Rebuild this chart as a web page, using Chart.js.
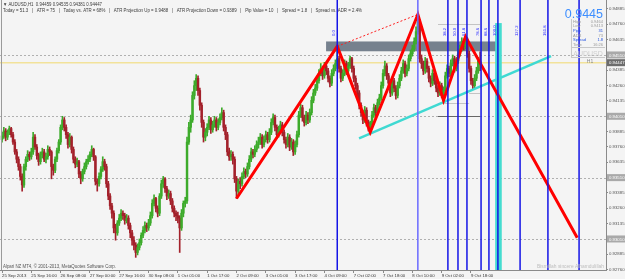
<!DOCTYPE html>
<html>
<head>
<meta charset="utf-8">
<script src="https://cdn.jsdelivr.net/npm/chart.js@4.4.0/dist/chart.umd.min.js"></script>
<style>
    html, body { margin: 0; padding: 0; background: #f4f4f4; }
    canvas { display: block; }
</style>
</head>
<body>
<canvas id="grafico" width="625" height="279"></canvas>
<script>
// AUDUSD H1, one value per bar
const opens = [
0.9382,0.9385,0.9389,0.9384,0.9388,0.9391,0.9386,0.9380,0.9372,0.9366,
0.9360,0.9352,0.9345,0.9360,0.9366,0.9370,0.9368,0.9372,0.9384,0.9376,
0.9369,0.9364,0.9370,0.9372,0.9366,0.9368,0.9374,0.9372,0.9360,0.9357,
0.9366,0.9373,0.9380,0.9392,0.9398,0.9392,0.9386,0.9378,0.9384,0.9374,
0.9366,0.9362,0.9364,0.9354,0.9350,0.9356,0.9360,0.9364,0.9366,0.9370,
0.9374,0.9368,0.9348,0.9346,0.9352,0.9358,0.9364,0.9360,0.9346,0.9336,
0.9328,0.9322,0.9310,0.9306,0.9314,0.9318,0.9322,0.9320,0.9316,0.9318,
0.9312,0.9306,0.9300,0.9296,0.9290,0.9294,0.9298,0.9304,0.9308,0.9312,
0.9310,0.9314,0.9320,0.9330,0.9334,0.9326,0.9322,0.9336,0.9346,0.9350,
0.9342,0.9336,0.9338,0.9332,0.9326,0.9322,0.9320,0.9318,0.9310,0.9322,
0.9330,0.9332,0.9380,0.9392,0.9398,0.9418,0.9426,0.9432,0.9422,0.9410,
0.9396,0.9384,0.9388,0.9392,0.9398,0.9390,0.9394,0.9398,0.9392,0.9396,
0.9400,0.9404,0.9392,0.9386,0.9372,0.9368,0.9370,0.9366,0.9350,0.9340,
0.9348,0.9346,0.9352,0.9356,0.9354,0.9360,0.9366,0.9372,0.9370,0.9374,
0.9378,0.9380,0.9384,0.9378,0.9382,0.9386,0.9382,0.9388,0.9396,0.9400,
0.9392,0.9386,0.9390,0.9394,0.9388,0.9382,0.9378,0.9384,0.9376,0.9380,
0.9372,0.9378,0.9386,0.9402,0.9408,0.9400,0.9396,0.9402,0.9398,0.9404,
0.9414,0.9420,0.9424,0.9430,0.9436,0.9440,0.9434,0.9442,0.9438,0.9432,
0.9428,0.9436,0.9440,0.9444,0.9448,0.9440,0.9432,0.9436,0.9444,0.9438,
0.9442,0.9448,0.9440,0.9432,0.9426,0.9420,0.9410,0.9404,0.9398,0.9406,
0.9396,0.9392,0.9394,0.9402,0.9408,0.9404,0.9412,0.9416,0.9426,0.9436,
0.9442,0.9434,0.9428,0.9420,0.9430,0.9424,0.9418,0.9426,0.9432,0.9438,
0.9444,0.9436,0.9440,0.9448,0.9452,0.9456,0.9462,0.9470,0.9478,0.9448,
0.9444,0.9438,0.9446,0.9440,0.9432,0.9428,0.9436,0.9430,0.9424,0.9420,
0.9426,0.9418,0.9422,0.9434,0.9440,0.9436,0.9444,0.9448,0.9440,0.9446,
0.9452,0.9456,0.9462,0.9458,0.9464,0.9452,0.9440,0.9430,0.9426,0.9432,
0.9438,0.94459]

const highs = [
0.9388,0.9392,0.9391,0.9390,0.9393,0.9392,0.9388,0.9382,0.9374,0.9368,
0.9362,0.9354,0.9362,0.9368,0.9373,0.9372,0.9375,0.9388,0.9386,0.9378,
0.9371,0.9372,0.9375,0.9374,0.9371,0.9377,0.9376,0.9373,0.9362,0.9368,
0.9375,0.9382,0.9394,0.9401,0.9400,0.9394,0.9388,0.9387,0.9385,0.9376,
0.9368,0.9367,0.9365,0.9356,0.9358,0.9363,0.9366,0.9369,0.9372,0.9377,
0.9375,0.9369,0.9350,0.9355,0.9360,0.9368,0.9366,0.9362,0.9348,0.9338,
0.9330,0.9324,0.9313,0.9316,0.9321,0.9325,0.9324,0.9322,0.9321,0.9320,
0.9314,0.9308,0.9303,0.9298,0.9297,0.9301,0.9306,0.9311,0.9315,0.9314,
0.9317,0.9323,0.9333,0.9337,0.9335,0.9328,0.9338,0.9349,0.9352,0.9351,
0.9344,0.9341,0.9340,0.9334,0.9328,0.9324,0.9323,0.9320,0.9325,0.9332,
0.9335,0.9384,0.9396,0.9402,0.9421,0.9430,0.9435,0.9434,0.9424,0.9412,
0.9398,0.9391,0.9395,0.9401,0.9400,0.9397,0.9401,0.9400,0.9399,0.9403,
0.9408,0.9406,0.9394,0.9388,0.9375,0.9373,0.9372,0.9368,0.9352,0.9350,
0.9351,0.9355,0.9359,0.9358,0.9363,0.9369,0.9375,0.9374,0.9377,0.9381,
0.9384,0.9387,0.9386,0.9385,0.9389,0.9388,0.9391,0.9399,0.9403,0.9402,
0.9394,0.9393,0.9397,0.9396,0.9390,0.9384,0.9387,0.9386,0.9383,0.9382,
0.9381,0.9389,0.9405,0.9411,0.9410,0.9402,0.9405,0.9404,0.9407,0.9417,
0.9423,0.9427,0.9433,0.9439,0.9444,0.9442,0.9445,0.9444,0.9440,0.9434,
0.9439,0.9443,0.9447,0.9458,0.9450,0.9442,0.9439,0.9447,0.9446,0.9445,
0.9450,0.9449,0.9442,0.9434,0.9428,0.9422,0.9412,0.9406,0.9409,0.9408,
0.9398,0.9397,0.9405,0.9411,0.9410,0.9415,0.9419,0.9429,0.9439,0.9446,
0.9444,0.9436,0.9430,0.9433,0.9432,0.9426,0.9429,0.9435,0.9441,0.9447,
0.9446,0.9443,0.9451,0.9455,0.9459,0.9465,0.9474,0.9484,0.9480,0.9451,
0.9446,0.9449,0.9448,0.9442,0.9434,0.9439,0.9438,0.9432,0.9426,0.9429,
0.9428,0.9425,0.9437,0.9443,0.9442,0.9447,0.9451,0.9450,0.9449,0.9455,
0.9459,0.9465,0.9464,0.9466,0.9465,0.9454,0.9442,0.9432,0.9435,0.9441,
0.9449,0.94535]

const lows = [
0.9380,0.9383,0.9381,0.9382,0.9386,0.9384,0.9378,0.9370,0.9363,0.9357,
0.9349,0.9340,0.9343,0.9357,0.9364,0.9365,0.9366,0.9370,0.9374,0.9366,
0.9361,0.9362,0.9367,0.9364,0.9363,0.9366,0.9369,0.9350,0.9353,0.9355,
0.9364,0.9371,0.9378,0.9390,0.9389,0.9383,0.9375,0.9376,0.9371,0.9363,
0.9359,0.9360,0.9351,0.9346,0.9348,0.9354,0.9358,0.9362,0.9364,0.9368,
0.9365,0.9345,0.9340,0.9344,0.9350,0.9356,0.9357,0.9343,0.9333,0.9325,
0.9318,0.9306,0.9300,0.9304,0.9312,0.9316,0.9317,0.9313,0.9314,0.9309,
0.9302,0.9296,0.9292,0.9286,0.9288,0.9292,0.9296,0.9302,0.9306,0.9307,
0.9308,0.9312,0.9318,0.9328,0.9323,0.9319,0.9320,0.9334,0.9343,0.9339,
0.9333,0.9334,0.9329,0.9323,0.9319,0.9316,0.9314,0.9290,0.9308,0.9319,
0.9327,0.9330,0.9378,0.9388,0.9396,0.9415,0.9422,0.9418,0.9406,0.9392,
0.9380,0.9381,0.9385,0.9390,0.9387,0.9388,0.9392,0.9389,0.9390,0.9394,
0.9398,0.9389,0.9382,0.9369,0.9365,0.9365,0.9362,0.9347,0.9334,0.9337,
0.9342,0.9344,0.9350,0.9351,0.9352,0.9358,0.9364,0.9367,0.9368,0.9372,
0.9375,0.9378,0.9375,0.9376,0.9380,0.9379,0.9380,0.9386,0.9394,0.9389,
0.9383,0.9384,0.9388,0.9385,0.9379,0.9375,0.9376,0.9373,0.9374,0.9369,
0.9370,0.9376,0.9384,0.9400,0.9397,0.9393,0.9394,0.9395,0.9396,0.9402,
0.9412,0.9418,0.9422,0.9428,0.9434,0.9431,0.9432,0.9435,0.9429,0.9425,
0.9426,0.9434,0.9438,0.9442,0.9437,0.9429,0.9430,0.9434,0.9435,0.9436,
0.9440,0.9437,0.9429,0.9423,0.9417,0.9407,0.9401,0.9395,0.9396,0.9393,
0.9389,0.9388,0.9392,0.9400,0.9401,0.9402,0.9410,0.9414,0.9424,0.9434,
0.9431,0.9425,0.9417,0.9418,0.9421,0.9415,0.9416,0.9424,0.9430,0.9436,
0.9433,0.9434,0.9438,0.9446,0.9450,0.9454,0.9460,0.9468,0.9445,0.9440,
0.9435,0.9436,0.9437,0.9429,0.9425,0.9426,0.9427,0.9421,0.9417,0.9418,
0.9416,0.9414,0.9420,0.9432,0.9433,0.9434,0.9442,0.9437,0.9438,0.9444,
0.9450,0.9454,0.9455,0.9456,0.9449,0.9437,0.9427,0.9423,0.9424,0.9430,
0.9436,0.94381]

const closes = [
0.9385,0.9389,0.9384,0.9388,0.9391,0.9386,0.9380,0.9372,0.9366,0.9360,
0.9352,0.9345,0.9360,0.9366,0.9370,0.9368,0.9372,0.9384,0.9376,0.9369,
0.9364,0.9370,0.9372,0.9366,0.9368,0.9374,0.9372,0.9360,0.9357,0.9366,
0.9373,0.9380,0.9392,0.9398,0.9392,0.9386,0.9378,0.9384,0.9374,0.9366,
0.9362,0.9364,0.9354,0.9350,0.9356,0.9360,0.9364,0.9366,0.9370,0.9374,
0.9368,0.9348,0.9346,0.9352,0.9358,0.9364,0.9360,0.9346,0.9336,0.9328,
0.9322,0.9310,0.9306,0.9314,0.9318,0.9322,0.9320,0.9316,0.9318,0.9312,
0.9306,0.9300,0.9296,0.9290,0.9294,0.9298,0.9304,0.9308,0.9312,0.9310,
0.9314,0.9320,0.9330,0.9334,0.9326,0.9322,0.9336,0.9346,0.9350,0.9342,
0.9336,0.9338,0.9332,0.9326,0.9322,0.9320,0.9318,0.9310,0.9322,0.9330,
0.9332,0.9380,0.9392,0.9398,0.9418,0.9426,0.9432,0.9422,0.9410,0.9396,
0.9384,0.9388,0.9392,0.9398,0.9390,0.9394,0.9398,0.9392,0.9396,0.9400,
0.9404,0.9392,0.9386,0.9372,0.9368,0.9370,0.9366,0.9350,0.9340,0.9348,
0.9346,0.9352,0.9356,0.9354,0.9360,0.9366,0.9372,0.9370,0.9374,0.9378,
0.9380,0.9384,0.9378,0.9382,0.9386,0.9382,0.9388,0.9396,0.9400,0.9392,
0.9386,0.9390,0.9394,0.9388,0.9382,0.9378,0.9384,0.9376,0.9380,0.9372,
0.9378,0.9386,0.9402,0.9408,0.9400,0.9396,0.9402,0.9398,0.9404,0.9414,
0.9420,0.9424,0.9430,0.9436,0.9440,0.9434,0.9442,0.9438,0.9432,0.9428,
0.9436,0.9440,0.9444,0.9448,0.9440,0.9432,0.9436,0.9444,0.9438,0.9442,
0.9448,0.9440,0.9432,0.9426,0.9420,0.9410,0.9404,0.9398,0.9406,0.9396,
0.9392,0.9394,0.9402,0.9408,0.9404,0.9412,0.9416,0.9426,0.9436,0.9442,
0.9434,0.9428,0.9420,0.9430,0.9424,0.9418,0.9426,0.9432,0.9438,0.9444,
0.9436,0.9440,0.9448,0.9452,0.9456,0.9462,0.9470,0.9478,0.9448,0.9444,
0.9438,0.9446,0.9440,0.9432,0.9428,0.9436,0.9430,0.9424,0.9420,0.9426,
0.9418,0.9422,0.9434,0.9440,0.9436,0.9444,0.9448,0.9440,0.9446,0.9452,
0.9456,0.9462,0.9458,0.9464,0.9452,0.9440,0.9430,0.9426,0.9432,0.9438,
0.9446,0.94447]

const timeTickIdx = [0, 16, 32, 48, 64, 80, 96, 112, 128, 144, 160, 176, 192, 208, 224, 240, 256]
const timeLabels = ['25 Sep 2013', '25 Sep 16:00', '26 Sep 08:00', '27 Sep 00:00', '27 Sep 16:00', '30 Sep 08:00',
    '1 Oct 01:00', '1 Oct 17:00', '2 Oct 09:00', '3 Oct 01:00', '3 Oct 17:00', '4 Oct 09:00', '7 Oct 02:00',
    '7 Oct 18:00', '8 Oct 10:00', '9 Oct 02:00', '9 Oct 18:00']
const priceTicks = [0.92760, 0.92885, 0.93010, 0.93135, 0.93260, 0.93385, 0.93510, 0.93635, 0.93760,
    0.93885, 0.94010, 0.94135, 0.94260, 0.94385, 0.94510, 0.94635, 0.94760, 0.94885]
const gridLevels = [0.93010, 0.93510, 0.94010, 0.94510]
const bid = 0.94447

// objects drawn on the chart (bar index, price)
const zigzagIdx = [128, 183, 201, 227, 241, 253, 314]
const zigzagPrice = [0.9334, 0.9458, 0.9388, 0.9484, 0.9414, 0.9466, 0.9302]
const dotIdx = [183, 227]
const dotPrice = [0.9458, 0.9484]
const trendIdx = [194.9, 299.7]
const trendPrice = [0.9383, 0.9450]
const boxIdx = [176.9, 270.2]
const boxPrice = [0.9454, 0.9462]
const bandIdx = [269.2, 272.8]
const bandTop = 0.9477
const vLineIdx = [183, 227, 243.4, 248.9, 253.8, 261.5, 265.8, 270.7, 282.8, 298, 315]
const vLineLabels = ['0.0', '', '38.2', '50.0', '61.8', '78.6', '88.6', '100.0', '127.2', '161.8', '']
const levelIdx = [[238, 261], [238, 261], [238, 255], [255, 261]]
const levelPrice = [0.9476, 0.9401, 0.9412, 0.9420]

const infoRows = [['High', '0.9464'], ['Low', '0.9413'], ['Pips', '31'], ['ADR', '73'], ['Spread', '1.8'], ['Time', '16:26']]

Chart.defaults.font.family = '"Liberation Sans", Arial, sans-serif'

const verde = '#3dab2b'
const vermelho = '#a3212b'
const corCandle = closes.map((c, i) => c >= opens[i] ? verde : vermelho)

function linha(ctx, x1, y1, x2, y2) {
    ctx.beginPath()
    ctx.moveTo(x1, y1)
    ctx.lineTo(x2, y2)
    ctx.stroke()
}

function texto(ctx, t, x, y, font, cor, align, largura) {
    ctx.font = font
    ctx.fillStyle = cor
    ctx.textAlign = align || 'left'
    ctx.textBaseline = 'alphabetic'
    if (largura) {
        ctx.fillText(t, x, y, largura)
    } else {
        ctx.fillText(t, x, y)
    }
}

const objetos = {
    id: 'objetos',
    beforeDraw(chart) {
        const { ctx, width, height } = chart
        ctx.save()
        ctx.fillStyle = '#f4f4f4'
        ctx.fillRect(0, 0, width, height)
        ctx.restore()
    },
    beforeDatasetsDraw(chart) {
        const { ctx, chartArea: a, scales: { x, y } } = chart
        ctx.save()
        ctx.beginPath()
        ctx.rect(a.left, a.top, a.right - a.left, a.bottom - a.top)
        ctx.clip()

        ctx.strokeStyle = '#b0b0b0'
        ctx.lineWidth = 1
        ctx.setLineDash([2, 2])
        gridLevels.forEach(v => {
            const py = Math.round(y.getPixelForValue(v)) + 0.5
            linha(ctx, a.left, py, a.right, py)
        })
        ctx.setLineDash([])

        ctx.strokeStyle = '#f2e29a'
        ctx.lineWidth = 1.5
        const pb = y.getPixelForValue(bid)
        linha(ctx, a.left, pb, a.right, pb)

        // gray rectangle
        const bx1 = x.getPixelForValue(boxIdx[0])
        const bx2 = x.getPixelForValue(boxIdx[1])
        const by1 = y.getPixelForValue(boxPrice[1])
        const by2 = y.getPixelForValue(boxPrice[0])
        ctx.fillStyle = '#76818e'
        ctx.fillRect(bx1, by1, bx2 - bx1, by2 - by1)

        // turquoise band
        const cx1 = x.getPixelForValue(bandIdx[0])
        const cx2 = x.getPixelForValue(bandIdx[1])
        const cy = y.getPixelForValue(bandTop)
        ctx.fillStyle = '#45dccf'
        ctx.fillRect(cx1, cy, cx2 - cx1, a.bottom - cy)

        // short level lines
        ctx.lineWidth = 1
        levelIdx.forEach((par, i) => {
            ctx.strokeStyle = i == 1 ? '#666666' : '#c4c4c4'
            const py = Math.round(y.getPixelForValue(levelPrice[i])) + 0.5
            linha(ctx, x.getPixelForValue(par[0]), py, x.getPixelForValue(par[1]), py)
        })
        ctx.restore()
    },
    afterDatasetsDraw(chart) {
        const { ctx, chartArea: a, scales: { x, y } } = chart
        ctx.save()

        // vertical time lines
        ctx.lineWidth = 1.5
        vLineIdx.forEach((v, i) => {
            const px = x.getPixelForValue(v)
            ctx.strokeStyle = i == 1 ? '#6a6aff' : '#1414e6'
            linha(ctx, px, a.top, px, a.bottom)
            if (vLineLabels[i]) {
                ctx.save()
                ctx.translate(px - 2, 36)
                ctx.rotate(-Math.PI / 2)
                texto(ctx, vLineLabels[i], 0, 0, '4.2px "Liberation Sans"', '#2a2aff', 'left')
                ctx.restore()
            }
        })

        // header
        texto(ctx, '\u25BC AUDUSD,H1  0.94459 0.94535 0.94381 0.94447', 3, 5.5, '5px "Liberation Sans"', '#3a3a3a', 'left', 99)
        const cabecalho = 'Today = 51.3   |   ATR = 75   |   Today vs. ATR = 68%   |   ATR Projection Up = 0.9488   |   ATR Projection Down = 0.9389   |   Pip Value = 10   |   Spread = 1.8   |   Spread vs. ADR = 2.4%'
        texto(ctx, cabecalho, 3, 12, '5px "Liberation Sans"', '#3a3a3a', 'left', 359)

        texto(ctx, 'Alpari NZ MT4, \u00A9 2001-2013, MetaQuotes Software Corp.', 3, 267.5, '5px "Liberation Sans"', '#555555', 'left', 113)
        texto(ctx, 'Bismillah sincere Alhamdulillah', 604, 267.5, '5px "Liberation Sans"', '#bdbdbd', 'right', 67)

        // info panel
        ctx.strokeStyle = '#c8c8c8'
        ctx.lineWidth = 1
        linha(ctx, 571, 47.5, 605, 47.5)
        linha(ctx, 571, 57.5, 605, 57.5)
        linha(ctx, 571.5, 19, 571.5, 58)
        texto(ctx, '0.9445', 603, 18, '12.5px "Liberation Sans"', '#3d8eff', 'right')
        infoRows.forEach((r, i) => {
            const cor = (i == 2 || i == 4) ? '#1f4fe0' : '#9a9a9a'
            const py = 22.5 + i * 4.7
            texto(ctx, r[0], 573, py, '4px "Liberation Sans"', cor)
            texto(ctx, r[1], 603, py, '4px "Liberation Sans"', cor, 'right')
        })
        texto(ctx, 'AUDUSD', 588, 55.5, '7px "Liberation Sans"', '#cfcfcf', 'center')
        texto(ctx, 'H1', 590, 63, '5px "Liberation Sans"', '#8a8a8a', 'center')

        // left border
        ctx.strokeStyle = '#9a9a9a'
        linha(ctx, 1.5, a.top, 1.5, a.bottom)

        // boxed prices on the axis
        gridLevels.concat([bid]).forEach(v => {
            const py = y.getPixelForValue(v)
            ctx.fillStyle = v == bid ? '#6c6c6c' : '#a9a9a9'
            ctx.fillRect(607, py - 3.5, 18, 7)
            texto(ctx, v.toFixed(5), 609, py + 1.6, '4.3px "Liberation Sans"', '#ffffff')
        })
        ctx.restore()
    }
}

const ctx = document.getElementById('grafico').getContext('2d')

new Chart(ctx, {
    type: 'bar',
    data: {
        datasets: [
            {
                type: 'line',
                data: zigzagIdx.map((v, i) => ({ x: v, y: zigzagPrice[i] })),
                borderColor: '#ff0000',
                borderWidth: 3,
                pointRadius: 0,
                order: 0
            },
            {
                type: 'line',
                data: dotIdx.map((v, i) => ({ x: v, y: dotPrice[i] })),
                borderColor: '#ff2020',
                borderWidth: 1,
                borderDash: [2, 2],
                pointRadius: 0,
                order: 1
            },
            {
                type: 'line',
                data: trendIdx.map((v, i) => ({ x: v, y: trendPrice[i] })),
                borderColor: '#3fd9d2',
                borderWidth: 2.5,
                pointRadius: 0,
                order: 2
            },
            {
                data: opens.map((o, i) => ({ x: i, y: [o, closes[i]] })),
                backgroundColor: corCandle,
                barThickness: 1.8,
                minBarLength: 1,
                grouped: false,
                order: 3
            },
            {
                data: lows.map((l, i) => ({ x: i, y: [l, highs[i]] })),
                backgroundColor: corCandle,
                barThickness: 1,
                grouped: false,
                order: 4
            }
        ]
    },
    options: {
        responsive: false,
        animation: false,
        events: [],
        layout: { padding: 0 },
        plugins: {
            legend: { display: false },
            tooltip: { enabled: false }
        },
        scales: {
            x: {
                type: 'linear',
                offset: false,
                min: -1.092,
                max: 329.7,
                afterBuildTicks: s => { s.ticks = timeTickIdx.map(v => ({ value: v })) },
                afterFit: s => { s.height = 9; s.paddingLeft = 0; s.paddingRight = 0 },
                ticks: {
                    align: 'start',
                    autoSkip: false,
                    maxRotation: 0,
                    padding: 0,
                    color: '#333333',
                    font: { size: 4.3 },
                    callback: (v, i) => timeLabels[i]
                },
                grid: { drawOnChartArea: false, offset: false, tickLength: 3, color: '#8a8a8a' },
                border: { color: '#8a8a8a' }
            },
            y: {
                position: 'right',
                min: 0.92757,
                max: 0.94958,
                afterBuildTicks: s => { s.ticks = priceTicks.map(v => ({ value: v })) },
                afterFit: s => { s.width = 19; s.paddingTop = 0; s.paddingBottom = 0 },
                ticks: {
                    padding: 1,
                    color: '#555555',
                    font: { size: 4.3 },
                    callback: v => v.toFixed(5)
                },
                grid: { drawOnChartArea: false, tickLength: 2, color: '#8a8a8a' },
                border: { color: '#8a8a8a' }
            }
        }
    },
    plugins: [objetos]
})
</script>
</body>
</html>
